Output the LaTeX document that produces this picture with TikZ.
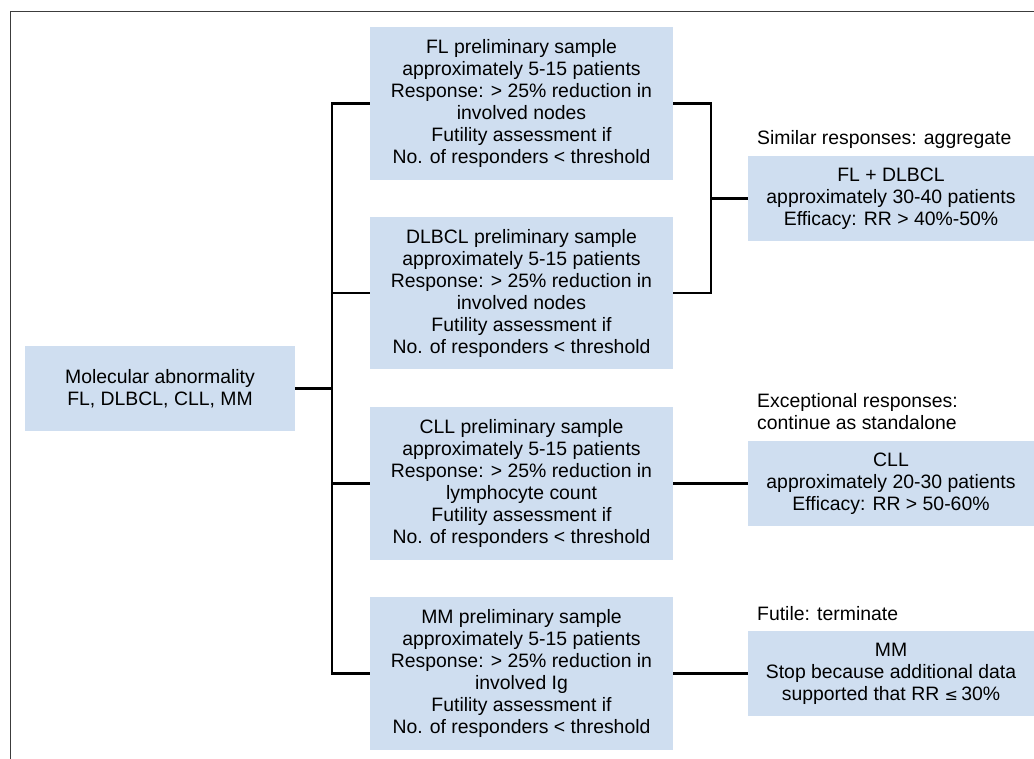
\documentclass[tikz,border=0pt]{standalone}
\usepackage{fontspec}
\setmainfont{Liberation Sans}
\definecolor{boxfill}{RGB}{207,222,240}
\definecolor{framecol}{RGB}{60,60,60}
\begin{document}
\begin{tikzpicture}[x=1pt,y=-1pt,
  box/.style={fill=boxfill, draw=none, align=center, inner sep=0pt,
    font=\fontsize{19.4}{22}\selectfont},
  lbl/.style={inner sep=0pt, align=left, font=\fontsize{19.4}{22}\selectfont},
  conn/.style={line width=2.5pt, black}]
\useasboundingbox (0,0) rectangle (1034,759);
\fill[white] (0,0) rectangle (1034,759);
\draw[line width=1pt, framecol] (10,759) -- (10,12) -- (1034,12);

\node[box, minimum width=270pt, minimum height=85pt] (mol) at (160,388.5)
  {Molecular abnormality\\FL, DLBCL, CLL, MM};

\node[box, minimum width=303pt, minimum height=153pt] (fl) at (521.5,103.5)
  {FL preliminary sample\\approximately 5-15 patients\\Response: > 25\% reduction in\\involved nodes\\Futility assessment if\\No. of responders < threshold};
\node[box, minimum width=303pt, minimum height=152pt] (dl) at (521.5,293)
  {DLBCL preliminary sample\\approximately 5-15 patients\\Response: > 25\% reduction in\\involved nodes\\Futility assessment if\\No. of responders < threshold};
\node[box, minimum width=303pt, minimum height=153pt] (cll) at (521.5,483.5)
  {CLL preliminary sample\\approximately 5-15 patients\\Response: > 25\% reduction in\\lymphocyte count\\Futility assessment if\\No. of responders < threshold};
\node[box, minimum width=303pt, minimum height=153pt] (mm) at (521.5,673.5)
  {MM preliminary sample\\approximately 5-15 patients\\Response: > 25\% reduction in\\involved Ig\\Futility assessment if\\No. of responders < threshold};

\node[box, minimum width=286pt, minimum height=85pt] (agg) at (891,198.5)
  {FL + DLBCL\\approximately 30-40 patients\\Efficacy: RR > 40\%-50\%};
\node[box, minimum width=286pt, minimum height=85pt] (cllr) at (891,483.5)
  {CLL\\approximately 20-30 patients\\Efficacy: RR > 50-60\%};
\node[box, minimum width=286pt, minimum height=85pt] (mmr) at (891,673.5)
  {MM\\Stop because additional data\\supported that RR {\fontspec{DejaVu Sans}\fontsize{16}{22}\selectfont ≤}\,30\%};

\node[lbl, anchor=base west] (l1) at (757,145) {Similar responses: aggregate};
\node[lbl, anchor=west] (l2) at (757,412) {Exceptional responses:\\continue as standalone};
\node[lbl, anchor=base west] (l3) at (757,620) {Futile: terminate};

\coordinate (tr) at (332,0);
\coordinate (br) at (711,0);

\draw[conn] (mol.east) -- (mol.east -| tr);
\draw[conn] (fl.west) -- (fl.west -| tr) -- (mm.west -| tr) -- (mm.west);
\draw[conn] (dl.west) -- (dl.west -| tr);
\draw[conn] (cll.west) -- (cll.west -| tr);

\draw[conn] (fl.east) -- (fl.east -| br) -- (dl.east -| br) -- (dl.east);
\draw[conn] (agg.west -| br) -- (agg.west);
\draw[conn] (cll.east) -- (cllr.west);
\draw[conn] (mm.east) -- (mmr.west);
\end{tikzpicture}
\end{document}
